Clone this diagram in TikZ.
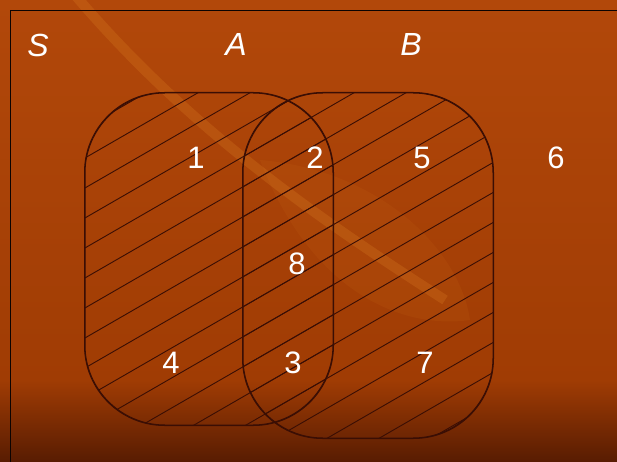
\documentclass[tikz,border=0pt]{standalone}
\usepackage{fontspec}
\setmainfont{Liberation Sans}
\definecolor{bgtop}{RGB}{178,72,10}
\definecolor{bgmid}{RGB}{160,60,4}
\definecolor{bgbottom}{RGB}{88,28,2}
\definecolor{inkbrown}{RGB}{58,14,4}
\definecolor{glow}{RGB}{230,140,40}
\tikzset{
  setbox/.style={draw=inkbrown,line width=1pt,rounded corners=80pt,
    inner sep=0pt},
  hatch/.style={draw=inkbrown,line width=0.9pt},
  num/.style={text=white,font=\fontsize{31}{34}\selectfont,inner sep=0pt},
  setlab/.style={text=white,font=\fontsize{32}{34}\selectfont\itshape,
    inner sep=0pt}
}
\newcommand{\hatchset}[1]{%
  \begin{scope}
    \path[clip,rounded corners=80pt] (#1.south west) rectangle (#1.north east);
    \foreach \c in {147,177,...,717}
      \draw[hatch] (0,\c) -- (617,\c-356);
  \end{scope}}

\begin{document}
\begin{tikzpicture}[x=1pt,y=-1pt]
  \useasboundingbox (0,0) rectangle (617,462);
  \clip (0,0) rectangle (617,462);
  % background
  \shade[top color=bgtop,bottom color=bgmid] (0,0) rectangle (617,381);
  \shade[top color=bgmid,bottom color=bgbottom] (0,380) rectangle (617,462);
  \draw[glow,opacity=0.22,line width=10pt]
    (75,-5) .. controls (190,130) and (320,220) .. (445,300);
  \fill[glow,opacity=0.08]
    (260,160) .. controls (380,170) and (460,250) .. (470,320)
    .. controls (400,330) and (310,290) .. (260,160);

  % universe
  \node[draw=black!80!inkbrown,line width=1.3pt,anchor=north west,
    inner sep=0pt,minimum width=640pt,minimum height=480pt] (univ)
    at (10,10) {};

  % sets
  \node[setbox,minimum width=248pt,minimum height=332pt] (setA) at (209,259) {};
  \node[setbox,minimum width=250pt,minimum height=345pt] (setB) at (368,265.5) {};
  \hatchset{setA}
  \hatchset{setB}
  \draw[setbox] (setA.south west) rectangle (setA.north east);
  \draw[setbox] (setB.south west) rectangle (setB.north east);

  % labels
  \node[setlab] (labS) at (38,45) {S};
  \node[setlab] (labA) at (236,44) {A};
  \node[setlab] (labB) at (411,44) {B};

  \node[num] (n1) at (196,158) {1};
  \node[num] (n2) at (315,158) {2};
  \node[num] (n5) at (422,158) {5};
  \node[num] (n6) at (556,158) {6};
  \node[num] (n8) at (297,264) {8};
  \node[num] (n4) at (171,363) {4};
  \node[num] (n3) at (293,363) {3};
  \node[num] (n7) at (425,363) {7};
\end{tikzpicture}
\end{document}
